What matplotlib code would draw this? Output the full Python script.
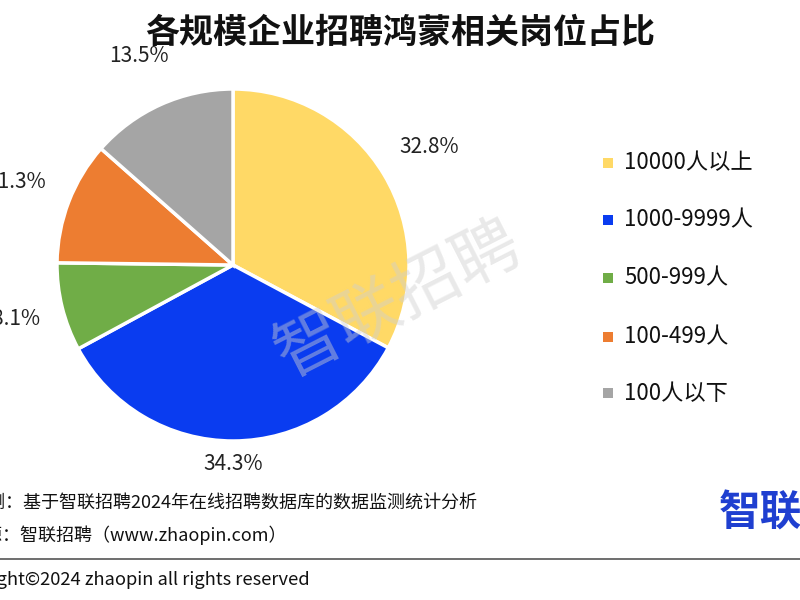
import matplotlib
matplotlib.use("Agg")
import matplotlib.pyplot as plt
import numpy as np

plt.rcParams['font.family'] = ['Noto Sans CJK SC', 'DejaVu Sans']

title = "各规模企业招聘鸿蒙相关岗位占比"
categories = ["10000人以上", "1000-9999人", "500-999人", "100-499人", "100人以下"]
values = [32.8, 34.3, 8.1, 11.3, 13.5]
colors = ["#FFD966", "#0A3CF0", "#70AD47", "#ED7D31", "#A5A5A5"]
label_dist = [1.30, 1.13, 1.27, 1.32, 1.30]

note1 = "数据监测：基于智联招聘2024年在线招聘数据库的数据监测统计分析"
note2 = "数据来源：智联招聘（www.zhaopin.com）"
copyright_text = "Copyright©2024 zhaopin all rights reserved"

fig = plt.figure(figsize=(8, 6), dpi=100)
ax = fig.add_axes([0, 0, 1, 1])

cx, cy, R = 233, 335, 176
wedges, _ = ax.pie(values, colors=colors, startangle=90, counterclock=False,
                   center=(cx, cy), radius=R, frame=True,
                   wedgeprops=dict(edgecolor='white', linewidth=2.5))
ax.set_xlim(0, 800)
ax.set_ylim(0, 600)
ax.axis('off')

for w, v, d in zip(wedges, values, label_dist):
    ang = np.deg2rad((w.theta1 + w.theta2) / 2)
    x = cx + R * d * np.cos(ang)
    y = cy + R * d * np.sin(ang)
    ax.text(x, y, f"{v:.1f}%", ha='center', va='center', fontsize=15, color='#222222')

# watermark
ax.text(398, 300, "智联招聘", rotation=27, ha='center', va='center', fontsize=48,
        color='#cfcfcf', alpha=0.45, zorder=5)

# title
ax.text(400, 568, title, ha='center', va='center', fontsize=24.5, fontweight='bold', color='#111111')

# legend
leg_y = [437, 380, 322, 263, 207]
for c, lab, yy in zip(colors, categories, leg_y):
    ax.scatter([608], [yy], marker='s', s=60, color=c, linewidths=0)
    ax.text(624, yy, lab, ha='left', va='center', fontsize=16, color='#111111')

# footer
ax.text(477, 97, note1, ha='right', va='center', fontsize=13, color='#111111')
ax.text(287, 65, note2, ha='right', va='center', fontsize=13, color='#111111')
ax.plot([0, 800], [41, 41], color='#555555', linewidth=1.2)
ax.text(310, 20, copyright_text, ha='right', va='center', fontsize=13.2, color='#111111')

# logo
ax.text(719, 86, "智联", ha='left', va='center', fontsize=30, fontweight='bold', color='#1F3FD0')

fig.savefig("out.png", dpi=100)
